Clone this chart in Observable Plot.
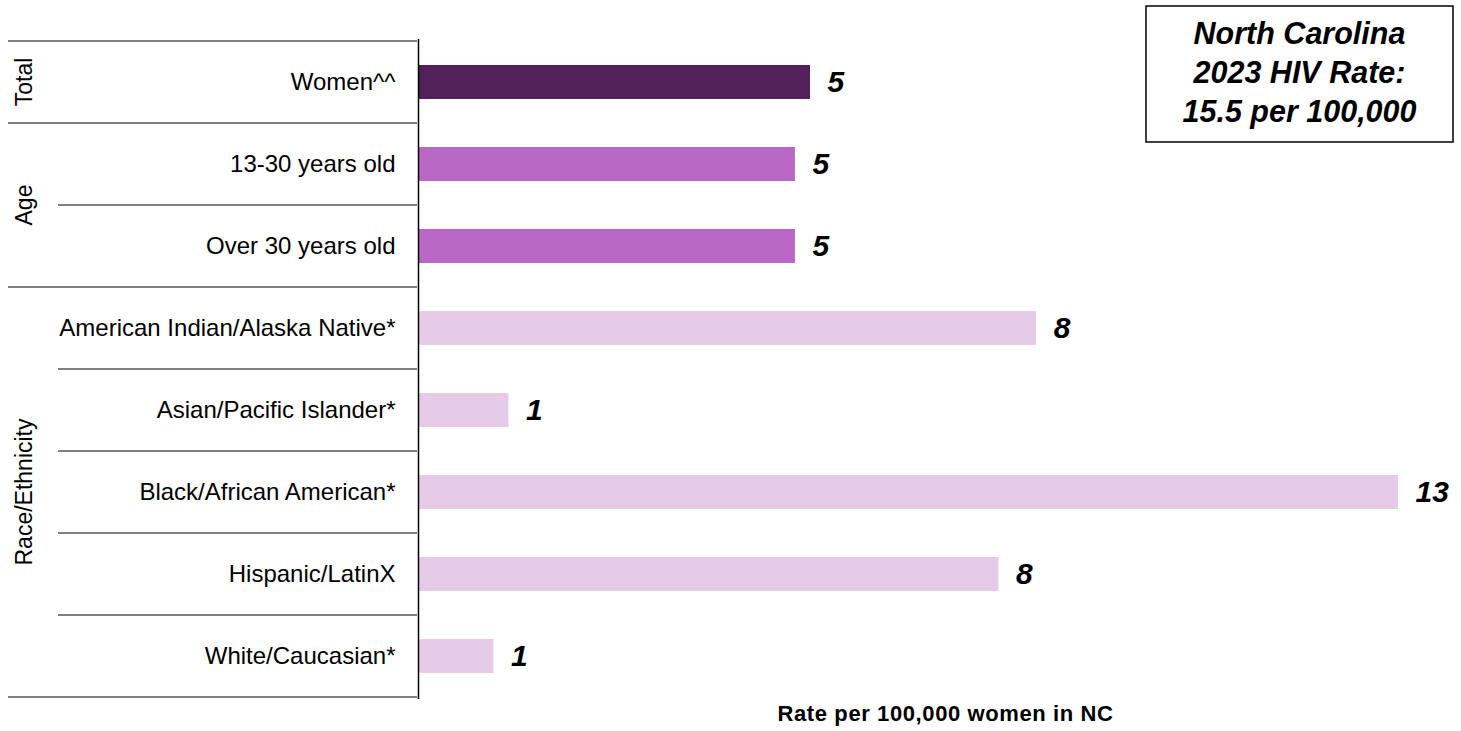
<!DOCTYPE html>
<html>
<head>
<meta charset="utf-8">
<script src="https://cdn.jsdelivr.net/npm/d3@7"></script>
<script src="https://cdn.jsdelivr.net/npm/@observablehq/plot@0.6"></script>
<style>
  body { margin: 0; background: #fff; font-family: "Liberation Sans", Arial, sans-serif; }
  #chart { width: 1461px; height: 731px; }
</style>
</head>
<body>
<div id="chart"></div>
<script>
// ---- Data ----
const categories = [
  "Women^^",
  "13-30 years old",
  "Over 30 years old",
  "American Indian/Alaska Native*",
  "Asian/Pacific Islander*",
  "Black/African American*",
  "Hispanic/LatinX",
  "White/Caucasian*"
];
const groups = ["Total", "Age", "Age", "Race/Ethnicity", "Race/Ethnicity", "Race/Ethnicity", "Race/Ethnicity", "Race/Ethnicity"];
const rates = [5.2, 5.0, 5.0, 8.2, 1.2, 13.0, 7.7, 1.0];
const groupLabels = ["Total", "Age", "Race/Ethnicity"];
const groupColors = ["#52215a", "#b967c4", "#e6cbe8"];
const axisTitle = "Rate per 100,000 women in NC";
const boxLines = ["North Carolina", "2023 HIV Rate:", "15.5 per 100,000"];

const data = categories.map((c, i) => ({category: c, group: groups[i], rate: rates[i]}));
const font = '"Liberation Sans", Arial, sans-serif';

const plot = Plot.plot({
  width: 1461,
  height: 731,
  marginLeft: 418,
  marginRight: 63,
  marginTop: 39,
  marginBottom: 32,
  style: {fontFamily: font, background: "#fff", overflow: "visible"},
  x: {domain: [0, 13], axis: null},
  y: {domain: categories, axis: null, padding: 0},
  color: {domain: groupLabels, range: groupColors},
  marks: [
    Plot.barX(data, {x: "rate", y: "category", fill: "group", insetTop: 24, insetBottom: 24}),
    Plot.text(data, {
      x: "rate", y: "category", text: d => d3.format(".0f")(d.rate),
      dx: 17, textAnchor: "start", fontSize: 30, fontWeight: "bold", fontStyle: "italic", fill: "#000"
    }),
    Plot.text(data, {
      y: "category", text: "category", frameAnchor: "left", dx: -23,
      textAnchor: "end", fontSize: 24, fill: "#000"
    }),
    Plot.ruleX([0], {stroke: "#000", strokeWidth: 1.5}),
    Plot.text([axisTitle], {
      text: d => d, frameAnchor: "bottom", dx: 37, dy: 21,
      fontSize: 22, fontWeight: "bold", fill: "#000"
    })
  ]
});

// ---- Separators and group labels from the y scale ----
const ys = plot.scale("y");
const bw = ys.bandwidth;
const svg = d3.select(plot);
const sep = svg.append("g").attr("stroke", "#000").attr("stroke-width", 1);
const xRight = 417;
const top0 = ys.apply(categories[0]);
sep.append("line").attr("x1", 8).attr("x2", xRight).attr("y1", top0).attr("y2", top0);
categories.forEach((c, i) => {
  const yb = ys.apply(c) + bw;
  const full = i === categories.length - 1 || groups[i] !== groups[i + 1];
  sep.append("line").attr("x1", full ? 8 : 58).attr("x2", xRight).attr("y1", yb).attr("y2", yb);
});

const gl = svg.append("g").attr("font-family", font).attr("font-size", 23).attr("fill", "#000");
groupLabels.forEach(g => {
  const rows = categories.filter((c, i) => groups[i] === g);
  const cy = d3.mean(rows, c => ys.apply(c) + bw / 2);
  gl.append("text")
    .attr("transform", `translate(24,${cy}) rotate(-90)`)
    .attr("text-anchor", "middle")
    .attr("dominant-baseline", "central")
    .text(g);
});

// Slight letter spacing on the axis title to match the reference width
svg.selectAll("text").filter(function() { return this.textContent === axisTitle; })
  .style("letter-spacing", "0.6px");

// ---- Annotation box ----
const box = svg.append("g");
box.append("rect").attr("x", 1146).attr("y", 6).attr("width", 307).attr("height", 136)
  .attr("fill", "#fff").attr("stroke", "#000").attr("stroke-width", 1.5);
boxLines.forEach((t, i) => {
  box.append("text")
    .attr("x", 1299.5).attr("y", 44 + i * 39)
    .attr("text-anchor", "middle")
    .attr("font-family", font).attr("font-size", 30.5)
    .attr("font-weight", "bold").attr("font-style", "italic")
    .attr("fill", "#000")
    .text(t);
});

document.getElementById("chart").appendChild(plot);
</script>
</body>
</html>
